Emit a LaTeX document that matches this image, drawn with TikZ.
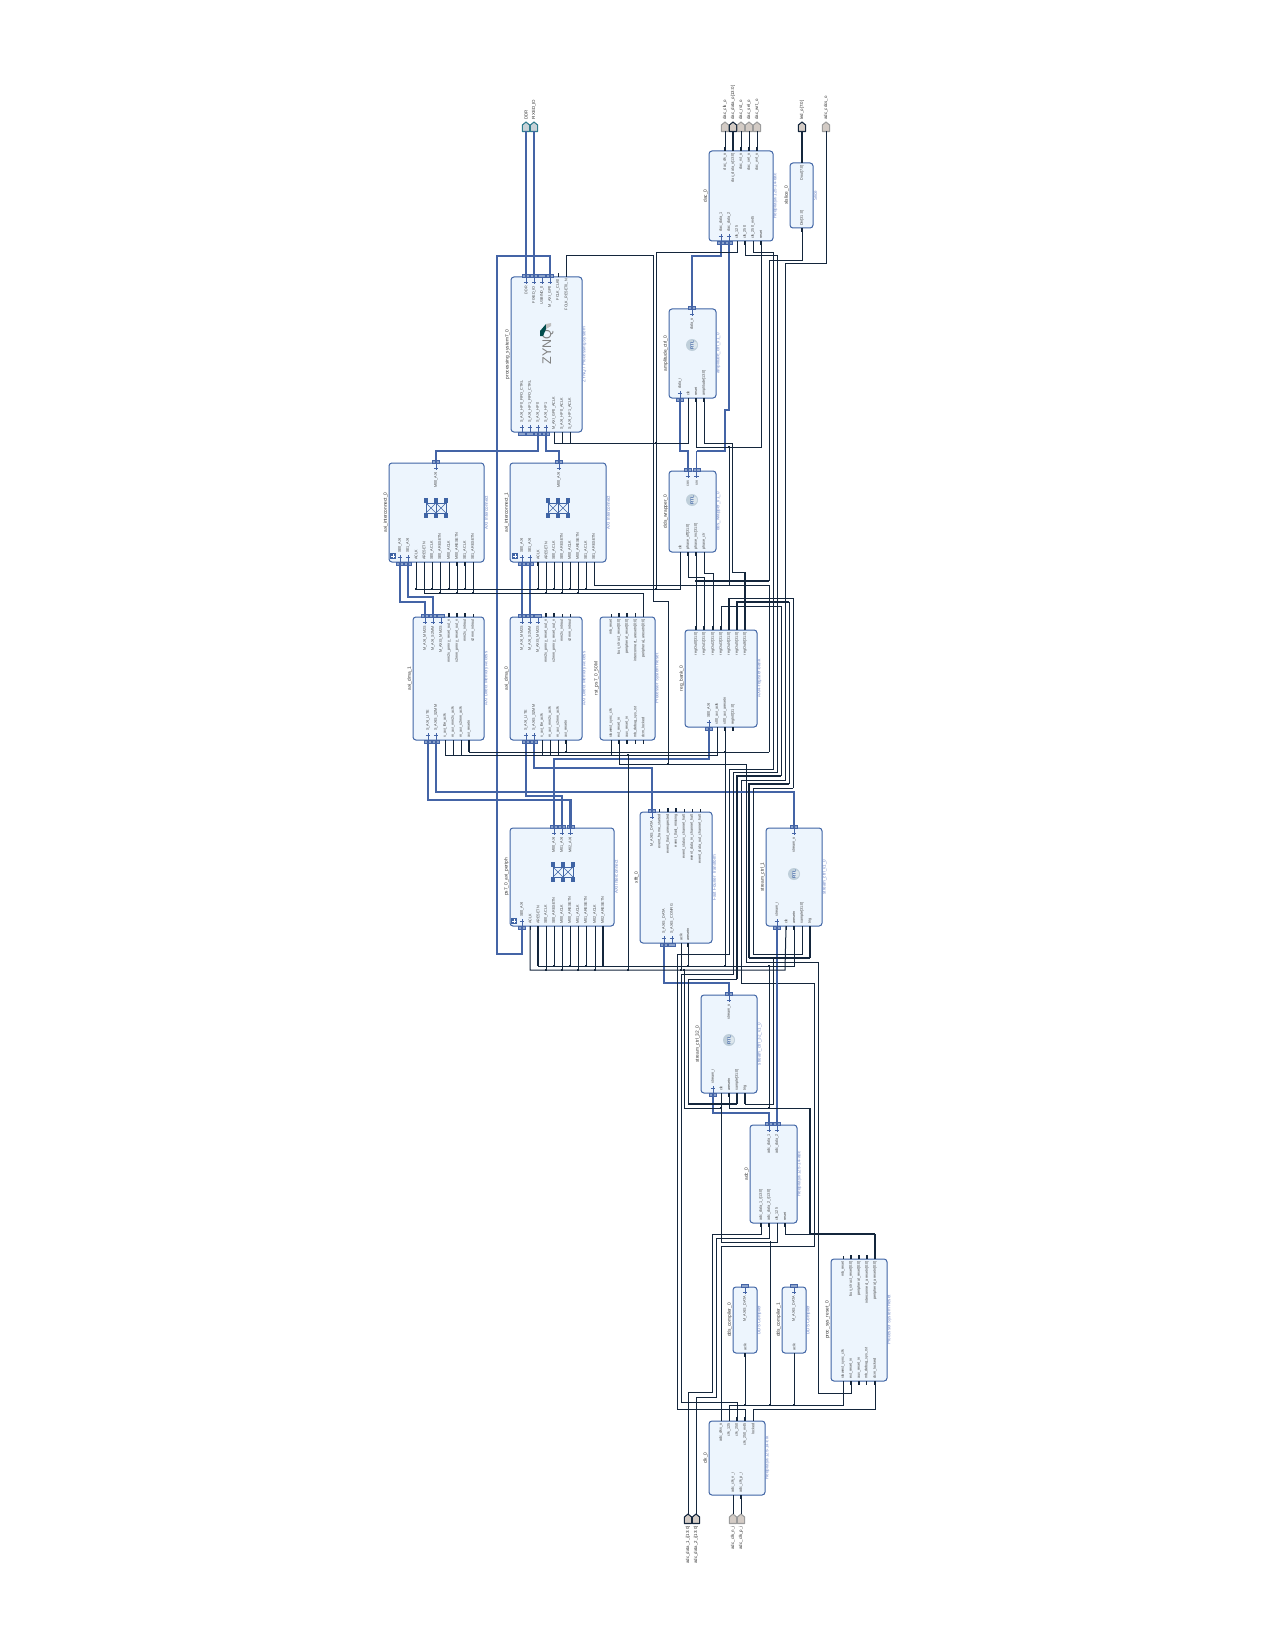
\documentclass[tikz,border=0pt]{standalone}
\usepackage{fontspec}
\setmainfont{Liberation Sans}
\definecolor{wirec}{HTML}{14263C}
\definecolor{busc}{HTML}{4464A6}
\definecolor{boxc}{HTML}{3F64A5}
\definecolor{boxf}{HTML}{EDF5FD}
\definecolor{typec}{HTML}{6F88C8}
\definecolor{namec}{HTML}{333333}
\definecolor{labc}{HTML}{404040}
\definecolor{pinf}{HTML}{8CA3CB}
\definecolor{wportf}{HTML}{D3CBC5}
\definecolor{wporte}{HTML}{9C9C9C}
\definecolor{iportf}{HTML}{C9D3D8}
\definecolor{iporte}{HTML}{2F7C8E}
\definecolor{rtlo}{HTML}{BFCFDA}
\definecolor{rtli}{HTML}{DCE6EC}
\tikzset{
 net/.style={draw=wirec,line width=0.75pt},
 med/.style={draw=wirec,line width=1pt},
 thk/.style={draw=wirec,line width=1.4pt},
 bl/.style={draw=busc,line width=0.85pt},
 blt/.style={draw=busc,line width=1.6pt},
 blx/.style={draw=busc,line width=2.2pt},
 blkbox/.style={draw=boxc,fill=boxf,line width=0.75pt,rounded corners=2.2pt},
 plab/.style={rotate=90,inner sep=0,text=labc,font=\fontsize{2.8}{3}\selectfont},
 nmlab/.style={rotate=90,inner sep=0,text=namec,font=\fontsize{3.6}{4}\selectfont},
 tylab/.style={rotate=90,inner sep=0,text=typec,font=\fontsize{3.4}{4}\selectfont},
 xlab/.style={rotate=90,inner sep=0,text=namec,font=\fontsize{3.3}{4}\selectfont},
}
\newcommand{\blk}[7]{%
 \draw[blkbox] (#2,#3) rectangle (#4,#5);
 \node[nmlab] (#1-n) at ({#2-3.5},{(#3+#5)/2}) {#6};
 \node[tylab] (#1-t) at ({#4+2.3},{(#3+#5)/2}) {#7};
}
% plain pins: top / bottom
\newcommand{\pT}[4]{\coordinate (#1) at (#2,#3);
 \draw[net] (#2,#3) -- (#2,{#3-3.5});
 \node[plab,anchor=east] (#1-l) at (#2,{#3+2}) {#4};}
\newcommand{\pB}[4]{\coordinate (#1) at (#2,#3);
 \draw[net] (#2,#3) -- (#2,{#3+3.5});
 \node[plab,anchor=west] (#1-l) at (#2,{#3-2}) {#4};}
\newcommand{\tT}[4]{\coordinate (#1) at (#2,#3);
 \draw[thk] (#2,#3) -- (#2,{#3-4});
 \node[plab,anchor=east] (#1-l) at (#2,{#3+2}) {#4};}
\newcommand{\tB}[4]{\coordinate (#1) at (#2,#3);
 \draw[thk] (#2,#3) -- (#2,{#3+4});
 \node[plab,anchor=west] (#1-l) at (#2,{#3-2}) {#4};}
% interface pins
\newcommand{\iT}[4]{\coordinate (#1) at (#2,#3);
 \draw[draw=busc,fill=pinf,line width=0.4pt] ({#2-3.5},{#3-3}) rectangle ({#2+3.5},#3);
 \draw[draw=busc,line width=0.6pt] (#2,#3) -- (#2,{#3+7}) ({#2-2.2},{#3+5}) -- ({#2+2.2},{#3+5});
 \node[plab,anchor=east] (#1-l) at (#2,{#3+9}) {#4};}
\newcommand{\iB}[4]{\coordinate (#1) at (#2,#3);
 \draw[draw=busc,fill=pinf,line width=0.4pt] ({#2-3.5},#3) rectangle ({#2+3.5},{#3+3});
 \draw[draw=busc,line width=0.6pt] (#2,#3) -- (#2,{#3-7}) ({#2-2.2},{#3-5}) -- ({#2+2.2},{#3-5});
 \node[plab,anchor=west] (#1-l) at (#2,{#3-9}) {#4};}
% external ports
\newcommand{\house}[5]{\coordinate (#1) at (#2,{#3+4.5});
 \draw[draw=#4,fill=#5,line width=0.8pt,line join=round] ({#2-3.6},{#3+4.5}) -- ({#2-3.6},{#3-2}) -- (#2,{#3-5}) -- ({#2+3.6},{#3-2}) -- ({#2+3.6},{#3+4.5}) -- cycle;}
\newcommand{\xT}[6]{\house{#1}{#2}{#3}{#4}{#5}
 \node[xlab,anchor=west] (#1-l) at (#2,{#3-7}) {#6};}
\newcommand{\xB}[6]{\coordinate (#1x) at (#2,{#3-5});\house{#1}{#2}{#3}{#4}{#5}
 \node[xlab,anchor=east] (#1-l) at (#2,{#3+7}) {#6};}
\newcommand{\dt}[2]{\fill[wirec] ({#1-1.3},{#2-1.3}) rectangle ({#1+1.3},{#2+1.3});}
\newcommand{\rtl}[2]{\fill[rtlo] (#1,#2) circle (6);
 \fill[rtli] ({#1+1.5},#2) circle (3.8);
 \node[rotate=90,inner sep=0,text=boxc,font=\fontsize{3.4}{4}\selectfont\bfseries] at (#1,#2) {RTL};}
\newcommand{\xbar}[2]{%
 \foreach \a in {-10,0,10} \foreach \b in {-7.6,7.6}
  \fill[boxc] ({#1+\a-2.3},{#2+\b-2.3}) rectangle ({#1+\a+2.3},{#2+\b+2.3});
 \draw[boxc,line width=0.4pt] ({#1-10},{#2-5}) rectangle (#1,{#2+5});
 \draw[boxc,line width=0.4pt] (#1,{#2-5}) rectangle ({#1+10},{#2+5});
 \draw[boxc,line width=0.4pt] ({#1-10},{#2-5}) -- (#1,{#2+5}) ({#1-10},{#2+5}) -- (#1,{#2-5});
 \draw[boxc,line width=0.4pt] (#1,{#2-5}) -- ({#1+10},{#2+5}) (#1,{#2+5}) -- ({#1+10},{#2-5});}
\newcommand{\expd}[2]{\fill[boxc] ({#1-3},{#2-3}) rectangle ({#1+3},{#2+3});
 \draw[white,line width=0.5pt] ({#1-1.8},#2) -- ({#1+1.8},#2) (#1,{#2-1.8}) -- (#1,{#2+1.8});}
\begin{document}
\begin{tikzpicture}[x=0.75pt,y=-0.75pt]
\useasboundingbox (0,0) rectangle (1275,1651);
\fill[white] (0,0) rectangle (1275,1651);

% ---- blocks
\blk{ps}{511}{277}{582}{432}{processing\_system7\_0}{ZYNQ7 Processing System}
\iT{psddr}{526}{277}{DDR}\iT{psfix}{534}{277}{FIXED\_IO}\iT{psusb}{542}{277}{USBIND\_0}\iT{psgp}{550}{277}{M\_AXI\_GP0}
\pT{psclk}{558}{277}{FCLK\_CLK0}\pT{psrst}{566.5}{277}{FCLK\_RESET0\_N}
\iB{psf0}{522}{432}{S\_AXI\_HP0\_FIFO\_CTRL}\iB{psf1}{530}{432}{S\_AXI\_HP1\_FIFO\_CTRL}\iB{pshp0}{538}{432}{S\_AXI\_HP0}\iB{pshp1}{546}{432}{S\_AXI\_HP1}
\pB{psa0}{554}{432}{M\_AXI\_GP0\_ACLK}\pB{psa1}{562}{432}{S\_AXI\_HP0\_ACLK}\pB{psa2}{570}{432}{S\_AXI\_HP1\_ACLK}
\node[rotate=90,inner sep=0,text=black!50,font=\fontsize{9.4}{10}\selectfont] (zynq) at (548,347) {ZYNQ};
\fill[teal!60!black] (540,331) -- (546,324) -- (546,329) -- (543,336) -- (540,336) -- cycle;
\fill[black!25] (546,324) -- (551,323) -- (551,326) -- (546,329) -- cycle;

\blk{dac}{709}{151}{773}{241}{dac\_0}{Redpitaya-125-14-dac}
\tT{dco}{725}{151}{dac\_clk\_o}\tT{ddo}{733}{151}{dac\_data\_o[13:0]}\tT{dro}{741}{151}{dac\_rst\_o}\tT{dso}{749}{151}{dac\_sel\_o}\tT{dwo}{757}{151}{dac\_wrt\_o}
\iB{dd1}{721}{241}{dac\_data\_1}\iB{dd2}{729}{241}{dac\_data\_2}
\pB{dc125}{737}{241}{clk\_125}\tB{dc250}{745}{241}{clk\_250}\pB{dcm45}{753}{241}{clk\_250\_m45}\tB{drs}{761}{241}{reset}

\blk{sl}{790}{163}{813}{228}{xlslice\_0}{Slice}
\tT{slo}{802}{163}{Dout[7:0]}\tB{sli}{802}{228}{Din[31:0]}

\blk{amp}{669}{309}{716}{398}{amplitude\_ctrl\_0}{amplitude\_ctrl\_v1\_0}
\iT{ampo}{692}{309}{data\_o}\iB{ampi}{680}{398}{data\_i}
\pB{ampc}{688}{398}{clk}\tB{ampr}{696}{398}{reset}\tB{ampa}{704}{398}{amplitude[13:0]}
\rtl{692}{345}

\blk{dds}{669}{471}{716}{552}{dds\_wrapper\_0}{dds\_wrapper\_v1\_0}
\iT{dcos}{688}{471}{cos}\iT{dsin}{696.5}{471}{sin}
\pB{dclk}{680}{552}{clk}\tB{doff}{688}{552}{phase\_off[31:0]}\tB{dinc}{696}{552}{phase\_inc[31:0]}\pB{dclr}{704}{552}{phase\_clr}
\rtl{692}{500}

\blk{ic0}{389}{463}{484}{562}{axi\_interconnect\_0}{AXI Interconnect}
\iT{ic0m}{436}{463}{M00\_AXI}
\iB{ic0s0}{400}{562}{S00\_AXI}\iB{ic0s1}{408}{562}{S01\_AXI}
\pB{ic0a}{416}{562}{ACLK}\pB{ic0r}{424}{562}{ARESETN}\pB{ic0b}{432}{562}{S00\_ACLK}\pB{ic0c}{440}{562}{S00\_ARESETN}\pB{ic0d}{449}{562}{M00\_ACLK}\tB{ic0e}{457}{562}{M00\_ARESETN}\tB{ic0f}{465}{562}{S01\_ACLK}\pB{ic0g}{473}{562}{S01\_ARESETN}
\xbar{436}{508}\expd{393}{556}

\blk{ic1}{510}{463}{606}{562}{axi\_interconnect\_1}{AXI Interconnect}
\iT{ic1m}{559}{463}{M00\_AXI}
\iB{ic1s0}{522}{562}{S00\_AXI}\iB{ic1s1}{530}{562}{S01\_AXI}
\tB{ic1a}{538}{562}{ACLK}\pB{ic1r}{546}{562}{ARESETN}\pB{ic1b}{554}{562}{S00\_ACLK}\pB{ic1c}{562}{562}{S00\_ARESETN}\pB{ic1d}{570}{562}{M00\_ACLK}\pB{ic1e}{578}{562}{M00\_ARESETN}\pB{ic1f}{586}{562}{S01\_ACLK}\pB{ic1g}{594}{562}{S01\_ARESETN}
\xbar{558}{508}\expd{515}{556}

\blk{dm1}{413}{617}{484}{740}{axi\_dma\_1}{AXI Direct Memory Access}
\iT{dm1a}{425}{617}{M\_AXI\_MM2S}\iT{dm1b}{433}{617}{M\_AXI\_S2MM}\iT{dm1c}{441}{617}{M\_AXIS\_MM2S}
\tT{dm1d}{449}{617}{mm2s\_prmry\_reset\_out\_n}\tT{dm1e}{457}{617}{s2mm\_prmry\_reset\_out\_n}\tT{dm1f}{465}{617}{mm2s\_introut}\pT{dm1g}{473}{617}{s2mm\_introut}
\iB{dm1l}{428}{740}{S\_AXI\_LITE}\iB{dm1s}{436}{740}{S\_AXIS\_S2MM}
\pB{dm1h}{445}{740}{s\_axi\_lite\_aclk}\pB{dm1i}{453}{740}{m\_axi\_mm2s\_aclk}\pB{dm1j}{461}{740}{m\_axi\_s2mm\_aclk}\tB{dm1r}{469}{740}{axi\_resetn}

\blk{dm0}{510}{617}{582}{740}{axi\_dma\_0}{AXI Direct Memory Access}
\iT{dm0a}{522}{617}{M\_AXI\_MM2S}\iT{dm0b}{530}{617}{M\_AXI\_S2MM}\iT{dm0c}{538}{617}{M\_AXIS\_MM2S}
\tT{dm0d}{546}{617}{mm2s\_prmry\_reset\_out\_n}\tT{dm0e}{554}{617}{s2mm\_prmry\_reset\_out\_n}\pT{dm0f}{562}{617}{mm2s\_introut}\pT{dm0g}{570}{617}{s2mm\_introut}
\iB{dm0l}{526}{740}{S\_AXI\_LITE}\iB{dm0s}{534}{740}{S\_AXIS\_S2MM}
\pB{dm0h}{542}{740}{s\_axi\_lite\_aclk}\pB{dm0i}{550}{740}{m\_axi\_mm2s\_aclk}\pB{dm0j}{558}{740}{m\_axi\_s2mm\_aclk}\tB{dm0r}{566}{740}{axi\_resetn}

\blk{rs}{600}{617}{655}{740}{rst\_ps7\_0\_50M}{Processor System Reset}
\pT{rsa}{611}{617}{mb\_reset}\tT{rsb}{619}{617}{bus\_struct\_reset[0:0]}\tT{rsc}{627}{617}{peripheral\_reset[0:0]}\tT{rsd}{635.5}{617}{interconnect\_aresetn[0:0]}\tT{rse}{643.5}{617}{peripheral\_aresetn[0:0]}
\pB{rsf}{611}{740}{slowest\_sync\_clk}\tB{rsg}{619}{740}{ext\_reset\_in}\tB{rsh}{627}{740}{aux\_reset\_in}\pB{rsi}{635.5}{740}{mb\_debug\_sys\_rst}\pB{rsj}{643.5}{740}{dcm\_locked}

\blk{reg}{685}{630}{757}{727}{reg\_bank\_0}{AXI4-register-bank}
\tT{r0}{696}{630}{regOut0[31:0]}\tT{r1}{704}{630}{regOut1[31:0]}\tT{r2}{713}{630}{regOut2[31:0]}\tT{r3}{721}{630}{regOut3[31:0]}\tT{r4}{729}{630}{regOut4[31:0]}\tT{r5}{737}{630}{regOut5[31:0]}\tT{r6}{745}{630}{regOut6[31:0]}
\iB{rax}{709}{727}{S00\_AXI}\pB{rac}{717}{727}{s00\_axi\_aclk}\tB{rar}{725}{727}{s00\_axi\_aresetn}\tB{rin}{733}{727}{regIn0[31:0]}

\blk{per}{510}{828}{614}{926}{ps7\_0\_axi\_periph}{AXI Interconnect}
\iT{pm0}{554}{828}{M00\_AXI}\iT{pm1}{562}{828}{M01\_AXI}\iT{pm2}{570.5}{828}{M02\_AXI}
\iB{ps0}{522}{926}{S00\_AXI}
\pB{pa}{530}{926}{ACLK}\tB{pr}{538}{926}{ARESETN}\pB{pb}{546}{926}{S00\_ACLK}\pB{pc}{554}{926}{S00\_ARESETN}\pB{pd}{562}{926}{M00\_ACLK}\pB{pe}{570}{926}{M00\_ARESETN}\pB{pf}{578}{926}{M01\_ACLK}\pB{pg}{586}{926}{M01\_ARESETN}\pB{ph}{595}{926}{M02\_ACLK}\tB{pi}{603}{926}{M02\_ARESETN}
\xbar{563}{872}\expd{514}{921}

\blk{ff}{640}{812}{712}{943}{xfft\_0}{Fast Fourier Transform}
\iT{ffm}{652}{812}{M\_AXIS\_DATA}
\pT{ffa}{659.5}{812}{event\_frame\_started}\tT{ffb}{668}{812}{event\_tlast\_unexpected}\tT{ffc}{676}{812}{event\_tlast\_missing}\pT{ffd}{684}{812}{event\_status\_channel\_halt}\pT{ffe}{692}{812}{event\_data\_in\_channel\_halt}\pT{fff}{700}{812}{event\_data\_out\_channel\_halt}
\iB{ffs}{664}{943}{S\_AXIS\_DATA}\iB{ffk}{672}{943}{S\_AXIS\_CONFIG}\pB{ffc1}{681}{943}{aclk}\tB{ffr}{688}{943}{aresetn}

\blk{st1}{766}{828}{822}{926}{stream\_ctrl\_1}{stream\_ctrl\_v1\_0}
\iT{s1o}{794}{828}{stream\_o}
\iB{s1i}{777}{926}{stream\_i}\pB{s1c}{786}{926}{clk}\tB{s1r}{794}{926}{aresetn}\pB{s1s}{802}{926}{sample[31:0]}\tB{s1t}{810}{926}{trig}
\rtl{794}{874}

\blk{st3}{701}{995}{757}{1093}{stream\_ctrl\_32\_0}{stream\_ctrl\_32\_v1\_0}
\iT{s3o}{729}{995}{stream\_o}
\iB{s3i}{713}{1093}{stream\_i}\pB{s3c}{721}{1093}{clk}\tB{s3r}{729}{1093}{aresetn}\tB{s3s}{737}{1093}{sample[31:0]}\tB{s3t}{745}{1093}{trig}
\rtl{729}{1040}

\blk{ad}{750}{1125}{797}{1223}{adc\_0}{Redpitaya-125-14-adc}
\iT{ad1}{769}{1125}{adc\_data\_1}\iT{ad2}{777}{1125}{adc\_data\_2}
\tB{adi1}{761}{1223}{adc\_data\_1\_i[13:0]}\tB{adi2}{769}{1223}{adc\_data\_2\_i[13:0]}\pB{adc}{777}{1223}{clk\_125}\tB{adr}{785}{1223}{reset}

\blk{dc0}{733}{1287}{757}{1353}{dds\_compiler\_0}{DDS Compiler}
\iT{dc0m}{745}{1287}{M\_AXIS\_DATA}\tB{dc0a}{745}{1353}{aclk}
\blk{dc1}{782}{1287}{806}{1353}{dds\_compiler\_1}{DDS Compiler}
\iT{dc1m}{794}{1287}{M\_AXIS\_DATA}\pB{dc1a}{794}{1353}{aclk}

\blk{pr0}{831}{1259}{887}{1381}{proc\_sys\_reset\_0}{Processor System Reset}
\pT{pra}{843}{1259}{mb\_reset}\tT{prb}{851}{1259}{bus\_struct\_reset[0:0]}\tT{prc}{859}{1259}{peripheral\_reset[0:0]}\tT{prd}{867}{1259}{interconnect\_aresetn[0:0]}\tT{pre}{875}{1259}{peripheral\_aresetn[0:0]}
\pB{prf}{843}{1381}{slowest\_sync\_clk}\tB{prg}{851}{1381}{ext\_reset\_in}\tB{prh}{859}{1381}{aux\_reset\_in}\pB{pri}{866.5}{1381}{mb\_debug\_sys\_rst}\tB{prj}{875}{1381}{dcm\_locked}

\blk{ck}{709}{1421}{765}{1495}{clk\_0}{Redpitaya-125-14-clk}
\pT{cka}{721}{1421}{adc\_clks\_o}\pT{ckb}{729}{1421}{clk\_125}\tT{ckc}{737}{1421}{clk\_250}\tT{ckd}{745}{1421}{clk\_250\_m45}\pT{cke}{753}{1421}{locked}
\pB{ckn}{733}{1495}{adc\_clk\_n\_i}\tB{ckp}{741}{1495}{adc\_clk\_p\_i}

% ---- external ports
\xT{xddr}{526}{127}{iporte}{iportf}{DDR}
\xT{xfix}{534}{127}{iporte}{iportf}{FIXED\_IO}
\xT{xclk}{725}{127}{wporte}{wportf}{dac\_clk\_o}
\xT{xdat}{733}{127}{wirec}{wportf}{dac\_data\_o[13:0]}
\xT{xrst}{741}{127}{wporte}{wportf}{dac\_rst\_o}
\xT{xsel}{749}{127}{wporte}{wportf}{dac\_sel\_o}
\xT{xwrt}{757}{127}{wporte}{wportf}{dac\_wrt\_o}
\xT{xled}{802}{127}{wirec}{wportf}{led\_o[7:0]}
\xT{xcds}{826}{127}{wporte}{wportf}{adc\_cdcs\_o}
\xB{xa1}{688}{1519}{wirec}{wportf}{adc\_data\_1\_i[13:0]}
\xB{xa2}{696}{1519}{wirec}{wportf}{adc\_data\_2\_i[13:0]}
\xB{xcn}{733}{1519}{wporte}{wportf}{adc\_clk\_n\_i}
\xB{xcp}{741}{1519}{wporte}{wportf}{adc\_clk\_p\_i}

% ---- external wires
\draw[blx] (psddr) -- (xddr);
\draw[blx] (psfix) -- (xfix);
\draw[net] (dco) -- (xclk);
\draw[med] (ddo) -- (xdat);
\draw[net] (dro) -- (xrst);
\draw[net] (dso) -- (xsel);
\draw[net] (dwo) -- (xwrt);
\draw[med] (slo) -- (xled);
\draw[net] (xcds) -- (826,264) -- (785,264) -- (785,780) -- (741,780) -- (741,983) -- (814,983) -- (814,1246) -- (721,1246) -- (cka);
\draw[net] (adi1) -- (761,1234) -- (712,1234) -- (712,1392) -- (688,1392) -- (xa1x);
\draw[net] (adi2) -- (769,1238) -- (716,1238) -- (716,1397) -- (696,1397) -- (xa2x);
\draw[net] (ckn) -- (xcnx);
\draw[net] (ckp) -- (xcpx);

% ---- interface wires
\draw[bl] (psgp) -- (550,256) -- (497,256) -- (497,954) -- (522,954) -- (ps0);
\draw[blt] (ic0m) -- (436,451) -- (538,451) -- (pshp0);
\draw[blt] (ic1m) -- (559,451) -- (546,451) -- (pshp1);
\draw[blt] (ic0s0) -- (400,602) -- (425,602) -- (dm1a);
\draw[blt] (ic0s1) -- (408,597) -- (433,597) -- (dm1b);
\draw[blt] (ic1s0) -- (dm0a);
\draw[blt] (ic1s1) -- (dm0b);
\draw[blt] (dm0l) -- (526,796) -- (562,796) -- (pm1);
\draw[blt] (dm1l) -- (428,800) -- (570.5,800) -- (pm2);
\draw[blt] (dm1s) -- (436,792) -- (794,792) -- (s1o);
\draw[blt] (dm0s) -- (534,768) -- (652,768) -- (ffm);
\draw[bl] (rax) -- (709,759) -- (554,759) -- (pm0);
\draw[blt] (dd1) -- (721,256) -- (692,256) -- (ampo);
\draw[blt] (dd2) -- (729,410) -- (725,410) -- (725,451) -- (696.5,451);
\draw[bl] (696.5,451) -- (dsin);
\draw[blt] (ampi) -- (680,451) -- (688,451) -- (dcos);
\draw[blt] (ffs) -- (664,983) -- (729,983) -- (s3o);
\draw[bl] (s3i) -- (713,1113) -- (769,1113) -- (ad1);
\draw[bl] (s1i) -- (ad2);

% ---- reset from PS and clocks
\draw[net] (psrst) -- (566.5,256) -- (653,256) -- (653,601) -- (668,601) -- (668,764);
\draw[net] (rsg) -- (619,764) -- (746,764) -- (746,962) -- (818,962) -- (818,1393) -- (851,1393) -- (prg);
\draw[net] (psa0) -- (554,443) -- (688,443) -- (ampc);
\draw[net] (psa1) -- (562,443);
\draw[net] (psa2) -- (570,443);
\draw[net] (dc125) -- (737,253) -- (656,253) -- (656,589);
\draw[net] (ic0a) -- (416,589) -- (680,589) -- (dclk);
\foreach \n/\xx in {ic0b/432,ic0d/449,ic0f/465,ic1a/538,ic1b/554,ic1d/570,ic1f/586}{\draw[net] (\n) -- (\xx,589);}
\draw[net] (ic0r) -- (424,593) -- (643.5,593) -- (rse);
\foreach \n/\xx in {ic0c/440,ic0e/457,ic0g/473,ic1r/546,ic1c/562,ic1e/578}{\draw[net] (\n) -- (\xx,593);}
\draw[net] (ic1g) -- (594,585) -- (769,585) -- (769,752);
\draw[net] (dm1h) -- (445,755) -- (717,755) -- (rac);
\foreach \n/\xx in {dm1i/453,dm1j/461,dm0h/542,dm0i/550,dm0j/558,rsf/611}{\draw[net] (\n) -- (\xx,755);}
\draw[med] (dm1r) -- (469,752);
\draw[net] (469,752) -- (769,752);
\draw[net] (dm0r) -- (566,752);
\draw[net] (rar) -- (725,966);
\draw[net] (628,755) -- (628,970);
\draw[net] (pa) -- (530,970) -- (785,970) -- (s1c);
\foreach \n/\xx in {pb/546,pd/562,pf/578,ph/595,ffc1/681}{\draw[net] (\n) -- (\xx,970);}
\draw[thk] (pr) -- (538,966);
\draw[net] (538,966) -- (794,966) -- (s1r);
\foreach \n/\xx in {pc/554,pe/570,pg/586,ffr/688}{\draw[net] (\n) -- (\xx,966);}
\draw[thk] (pi) -- (603,966);
% dac clock routes
\draw[net] (dcm45) -- (753,253) -- (773,253) -- (773,769) -- (729,769) -- (729,954) -- (677,954) -- (677,1409) -- (745,1409);
\draw[net] (ckd) -- (745,1409);
\draw[net] (dc250) -- (745,256) -- (777,256) -- (777,772) -- (733,772) -- (733,974) -- (681,974) -- (681,1402) -- (737,1402) -- (ckc);
% dac reset
\draw[net] (drs) -- (761,447) -- (696,447) -- (ampr);
\draw[net] (729,447) -- (729,585);
\draw[net] (sli) -- (802,261) -- (769,261) -- (769,581);
\draw[thk] (769,581) -- (696,581);
\draw[net] (dinc) -- (r0);
\draw[net] (doff) -- (688,577) -- (704,577) -- (r1);
\draw[net] (dclr) -- (704,573) -- (713,573) -- (r2);
\draw[net] (ampa) -- (704,443) -- (732,443) -- (732,572) -- (745,572);
\draw[thk] (745,572) -- (r6);
\draw[thk] (r5) -- (737,602) -- (789,602);
\draw[net] (789,602) -- (789,784);
\draw[thk] (789,784) -- (749,784) -- (749,958);
\draw[med] (749,958) -- (810,958);
\draw[thk] (810,958) -- (s1t);
\draw[thk] (r4) -- (729,598);
\draw[net] (729,598) -- (793,598) -- (793,788);
\draw[net] (793,788) -- (753,788) -- (753,954) -- (802,954) -- (s1s);
\draw[net] (r3) -- (721,606) -- (781,606) -- (781,776);
\draw[thk] (781,776) -- (737,776) -- (737,979);
\draw[net] (737,979) -- (688,979) -- (688,1104);
\draw[med] (688,1104) -- (737,1104);
\draw[thk] (737,1104) -- (s3s);
\draw[thk] (s3t) -- (745,1104);
\draw[net] (745,1104) -- (773,1104) -- (773,958);
% stream 32 clock / reset
\draw[net] (s3c) -- (721,1242) -- (777,1242) -- (adc);
\draw[net] (684,970) -- (684,1108) -- (721,1108);
\draw[net] (s3r) -- (729,1108) -- (810,1108);
\draw[net] (769,966) -- (769,1108);
\draw[thk] (810,1108) -- (810,1234);
\draw[thk] (pre) -- (875,1234);
\draw[med] (875,1234) -- (810,1234);
\draw[net] (810,1234) -- (785,1234) -- (adr);
\draw[net] (770,1241) -- (770,1405);
\draw[net] (ckb) -- (729,1405) -- (843,1405) -- (prf);
\draw[net] (dc0a) -- (745,1405);
\draw[net] (dc1a) -- (794,1405);
\draw[net] (prj) -- (875,1409) -- (753,1409) -- (cke);

% ---- junction dots
\foreach \xx/\yy in {656/443,656/589,416/589,432/589,449/589,465/589,538/589,554/589,570/589,586/589,440/593,457/593,473/593,546/593,562/593,578/593,566/752,725/752,628/755,546/970,562/970,578/970,595/970,628/970,681/970,684/970,554/966,570/966,586/966,603/966,688/966,725/966,769/966,773/958,729/447,696/581,668/764,769/1108,721/1108,810/1234,770/1405,745/1405,794/1405}{\dt{\xx}{\yy}}
\end{tikzpicture}
\end{document}
